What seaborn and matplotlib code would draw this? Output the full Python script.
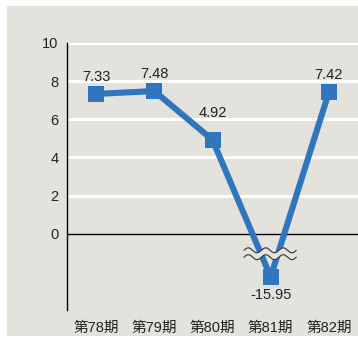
import numpy as np
import pandas as pd
import matplotlib
matplotlib.use("Agg")
import matplotlib.pyplot as plt
from matplotlib.patches import Rectangle, Polygon
import seaborn as sns

periods = ["第78期", "第79期", "第80期", "第81期", "第82期"]
values = [7.33, 7.48, 4.92, -15.95, 7.42]
y_ticks = [0, 2, 4, 6, 8, 10]

sns.set_style("white")
plt.rcParams["font.family"] = ["Liberation Sans", "Noto Sans CJK JP"]

BG = "#e3e2dd"
BLUE = "#2f76be"
TEXT = "#222222"

# compressed scale below the break so the large negative value fits
BREAK = -1.4
K = 0.059
WAVE_Y = -1.05


def fwd(y):
    y = np.asarray(y, dtype=float)
    return np.where(y >= BREAK, y, BREAK + (y - BREAK) * K)


def inv(y):
    y = np.asarray(y, dtype=float)
    return np.where(y >= BREAK, y, BREAK + (y - BREAK) / K)


fig = plt.figure(figsize=(3.58, 3.40), dpi=100)
fig.patches.append(Rectangle((7 / 358, 4 / 340), 1 - 7 / 358, 330 / 340,
                             transform=fig.transFigure, facecolor=BG,
                             edgecolor="none", zorder=-5))
ax = fig.add_axes([67 / 358, 30 / 340, 1 - 67 / 358, 267 / 340])
ax.set_facecolor("none")
ax.set_yscale("function", functions=(fwd, inv))

df = pd.DataFrame({"period": periods, "value": values})
sns.lineplot(data=df, x="period", y="value", ax=ax, color=BLUE, lw=4.4,
             marker="s", markersize=11.5, markeredgewidth=0, zorder=5,
             sort=False)

ax.set_xlim(-0.5, len(periods) - 0.5)
ax.set_ylim(float(inv(-4.0)), 10)
ax.set_yticks(y_ticks)
ax.set_yticklabels([str(t) for t in y_ticks], fontsize=10.5, color=TEXT)
ax.set_xticks(range(len(periods)))
ax.set_xticklabels(periods, fontsize=10.5, color=TEXT)
ax.tick_params(axis="both", length=0)
ax.tick_params(axis="x", pad=8)
ax.tick_params(axis="y", pad=6)
ax.set_xlabel("")
ax.set_ylabel("")

for t in y_ticks[1:]:
    ax.axhline(t, color="white", lw=2.2, zorder=1)
ax.axhline(0, color="black", lw=1.0, zorder=2)

for s in ["top", "right", "bottom"]:
    ax.spines[s].set_visible(False)
ax.spines["left"].set_color("black")
ax.spines["left"].set_linewidth(1.0)

# value labels (the 第80期 label sits higher to clear the falling line)
label_offsets = [7.5, 7.5, 14.5, -8, 7.5]
for i, (v, off) in enumerate(zip(values, label_offsets)):
    ax.annotate(f"{v:.2f}", (i, v), xytext=(0, off), textcoords="offset points",
                ha="center", va="bottom" if off > 0 else "top",
                fontsize=10.5, color=TEXT, zorder=6)

# wavy axis-break symbol across the negative value
xi = values.index(min(values))
xs = np.linspace(xi - 0.46, xi + 0.44, 200)
wave = 0.13 * np.sin((xs - xs[0]) / 0.3 * 2 * np.pi)
top = WAVE_Y + 0.18 + wave
bot = WAVE_Y - 0.18 + wave
poly = np.vstack([np.column_stack([xs, top]), np.column_stack([xs[::-1], bot[::-1]])])
ax.add_patch(Polygon(poly, closed=True, facecolor=BG, edgecolor="none", zorder=7))
ax.plot(xs, top, color="#333333", lw=0.8, zorder=8)
ax.plot(xs, bot, color="#333333", lw=0.8, zorder=8)

fig.savefig("out.png", dpi=100)
